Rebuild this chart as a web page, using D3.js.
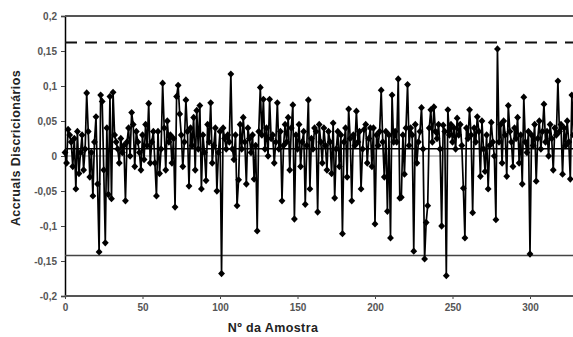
<!DOCTYPE html>
<html>
<head>
<meta charset="utf-8">
<script src="https://cdn.jsdelivr.net/npm/d3@7"></script>
<style>
  body { margin: 0; background: #fff; }
  svg { display: block; font-family: Arial, "Liberation Sans", sans-serif; }
</style>
</head>
<body>
<div id="chart"></div>
<script>
// accruals discricionarios per sample
const accruals = [
  0.005, -0.01, 0.038, 0.03, 0.02, -0.015, 0.025, -0.047, 0.035, -0.025,
  0.005, 0.03, -0.02, 0.01, 0.09, 0.035, -0.03, 0.005, -0.057, 0.02,
  0.056, -0.04, -0.137, 0.087, 0.078, -0.02, -0.124, 0.04, -0.055, 0.085,
  -0.061, 0.091, 0.03, 0.02, 0.01, -0.01, 0.025, 0.005, 0.015, -0.064,
  0.02, 0.04, 0.0, 0.062, 0.045, -0.015, 0.035, 0.02, 0.005, -0.02,
  0.03, -0.005, 0.045, 0.015, 0.075, -0.01, 0.02, 0.035, -0.01, -0.057,
  0.035, -0.025, 0.01, 0.104, 0.04, -0.02, 0.05, 0.02, 0.03, -0.01,
  0.025, -0.073, 0.085, 0.101, 0.06, 0.03, -0.015, 0.02, 0.08, 0.035,
  -0.043, 0.04, 0.015, 0.055, -0.02, 0.065, 0.01, 0.072, -0.047, 0.03,
  0.005, -0.035, 0.045, 0.02, 0.076, -0.01, 0.015, 0.04, -0.05, 0.005,
  0.035, -0.168, 0.04, 0.025, 0.01, 0.03, 0.02, 0.117, 0.01, -0.005,
  0.03, -0.071, -0.034, 0.045, 0.01, 0.055, 0.02, -0.04, 0.04, 0.025,
  0.005, 0.03, -0.033, 0.015, -0.107, 0.035, 0.098, 0.03, 0.081, 0.01,
  0.04, 0.0, 0.081, 0.025, 0.03, -0.01, 0.02, 0.076, 0.01, 0.035,
  -0.064, 0.015, 0.045, 0.02, 0.055, -0.02, 0.04, 0.073, -0.09, 0.03,
  0.01, 0.045, -0.015, 0.02, 0.035, -0.069, 0.015, 0.08, -0.047, 0.025,
  0.01, 0.04, 0.035, -0.08, 0.045, 0.02, -0.01, 0.04, 0.015, -0.02,
  0.035, 0.02, -0.025, 0.047, -0.06, 0.01, 0.035, -0.015, 0.03, -0.111,
  0.02, 0.04, -0.03, 0.067, 0.025, -0.064, 0.03, 0.015, 0.064, 0.02,
  0.035, -0.047, 0.01, 0.038, 0.045, -0.01, 0.025, 0.04, -0.015, 0.04,
  -0.097, 0.03, 0.015, 0.035, 0.094, 0.02, -0.03, 0.035, -0.079, 0.03,
  -0.117, 0.087, 0.02, 0.035, 0.02, 0.11, -0.06, -0.059, 0.03, -0.026,
  0.04, 0.102, 0.015, 0.04, 0.03, -0.136, 0.045, -0.01, 0.02, 0.035,
  0.069, 0.01, -0.147, -0.095, -0.071, 0.04, 0.066, 0.02, 0.07, 0.035,
  0.025, 0.045, 0.01, -0.1, 0.044, 0.035, -0.171, 0.066, 0.03, 0.045,
  0.02, 0.04, 0.01, 0.054, 0.03, 0.045, 0.015, -0.046, -0.117, 0.04,
  0.025, 0.066, 0.03, -0.081, 0.04, 0.02, 0.056, 0.035, -0.029, 0.05,
  0.01, -0.022, 0.03, -0.047, 0.015, 0.048, 0.02, 0.0, -0.091, 0.153,
  0.02, 0.045, -0.01, 0.05, 0.03, -0.029, 0.072, 0.035, 0.02, -0.015,
  0.04, 0.025, 0.055, -0.01, 0.03, -0.04, 0.084, 0.02, 0.005, 0.035,
  -0.14, 0.03, 0.015, 0.045, -0.036, 0.025, 0.05, 0.01, 0.035, 0.074,
  0.02, 0.035, 0.0, 0.045, 0.025, -0.02, 0.04, 0.03, 0.107, 0.035,
  0.045, -0.026, 0.04, 0.015, 0.05, 0.02, -0.033, 0.087, 0.03
];

// reference lines
const upperLimit = 0.162;
const lowerLimit = -0.142;
const meanLine = 0.0105;

const yTicks = [0.2, 0.15, 0.1, 0.05, 0, -0.05, -0.1, -0.15, -0.2];
const xTicks = [0, 50, 100, 150, 200, 250, 300];

const width = 573, height = 337;
const margin = {top: 16, left: 65, bottom: 41};

const svg = d3.select('#chart')
  .append('svg')
  .attr('width', width)
  .attr('height', height);

const x = d3.scaleLinear()
  .domain([0, 350])
  .range([margin.left, margin.left + 350 * 1.55]);

const y = d3.scaleLinear()
  .domain([-0.2, 0.2])
  .range([height - margin.bottom, margin.top]);

const fmt = d => String(+d.toFixed(2)).replace('.', ',');

// y axis
const yAxis = svg.append('g')
  .attr('transform', 'translate(' + margin.left + ',0)')
  .call(d3.axisLeft(y).tickValues(yTicks).tickFormat(fmt).tickSize(4).tickPadding(4));
yAxis.select('.domain').attr('stroke', '#000').attr('stroke-width', 1.5);
yAxis.selectAll('.tick line').attr('stroke', '#444');
yAxis.selectAll('.tick text').attr('fill', '#555').style('font-size', '10px').style('font-weight', 'bold');

// x axis
const xAxis = svg.append('g')
  .attr('transform', 'translate(0,' + y(-0.2) + ')')
  .call(d3.axisBottom(x).tickValues(xTicks).tickSize(3).tickPadding(5));
xAxis.select('.domain').remove();
xAxis.selectAll('.tick line').attr('stroke', '#444');
xAxis.selectAll('.tick text').attr('fill', '#555').style('font-size', '10px').style('font-weight', 'bold');

// frame lines top and bottom
svg.append('line')
  .attr('x1', margin.left).attr('x2', width)
  .attr('y1', y(0.2)).attr('y2', y(0.2))
  .attr('stroke', '#555').attr('stroke-width', 2);
svg.append('line')
  .attr('x1', margin.left).attr('x2', width)
  .attr('y1', y(-0.2)).attr('y2', y(-0.2))
  .attr('stroke', '#555').attr('stroke-width', 2);

// zero line
svg.append('line')
  .attr('x1', margin.left).attr('x2', width)
  .attr('y1', y(0)).attr('y2', y(0))
  .attr('stroke', '#888').attr('stroke-width', 1);

// limits
svg.append('line')
  .attr('x1', margin.left).attr('x2', width)
  .attr('y1', y(upperLimit)).attr('y2', y(upperLimit))
  .attr('stroke', '#111').attr('stroke-width', 2)
  .attr('stroke-dasharray', '12,8');
svg.append('line')
  .attr('x1', margin.left).attr('x2', width)
  .attr('y1', y(lowerLimit)).attr('y2', y(lowerLimit))
  .attr('stroke', '#444').attr('stroke-width', 1.5);

// series
const line = d3.line()
  .x((d, i) => x(i))
  .y(d => y(d));

svg.append('path')
  .datum(accruals)
  .attr('fill', 'none')
  .attr('stroke', '#000')
  .attr('stroke-width', 1.7)
  .attr('d', line);

svg.selectAll('.pt')
  .data(accruals)
  .enter()
  .append('path')
  .attr('class', 'pt')
  .attr('transform', (d, i) => 'translate(' + x(i) + ',' + y(d) + ') scale(1.3,0.8)')
  .attr('d', d3.symbol(d3.symbolDiamond, 24))
  .attr('fill', '#000');

// mean line
svg.append('line')
  .attr('x1', margin.left).attr('x2', width)
  .attr('y1', y(meanLine)).attr('y2', y(meanLine))
  .attr('stroke', '#000').attr('stroke-width', 1.5);

// titles
svg.append('text')
  .attr('transform', 'translate(20,148) rotate(-90)')
  .attr('text-anchor', 'middle')
  .style('font-size', '12.5px')
  .style('font-weight', 'bold')
  .style('letter-spacing', '0.4px')
  .attr('fill', '#222')
  .text('Accruals Discricionários');

svg.append('text')
  .attr('x', 273)
  .attr('y', 332)
  .attr('text-anchor', 'middle')
  .style('font-size', '12.5px')
  .style('font-weight', 'bold')
  .style('letter-spacing', '0.4px')
  .attr('fill', '#222')
  .text('Nº da Amostra');
</script>
</body>
</html>
